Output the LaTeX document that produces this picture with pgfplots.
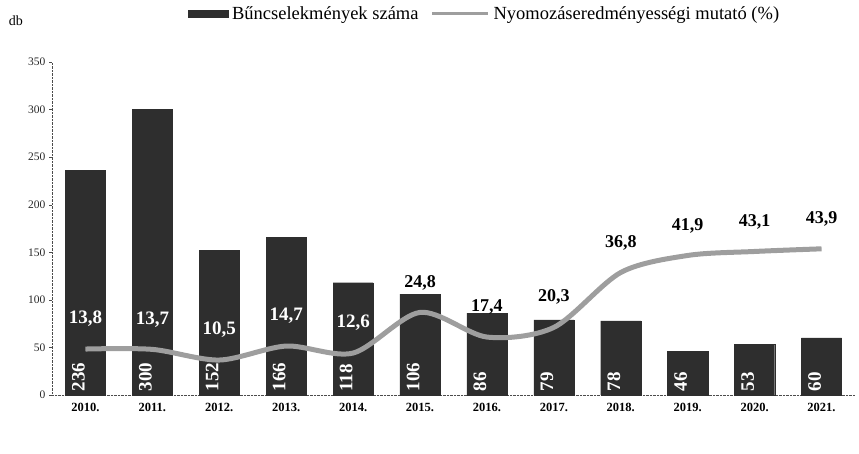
\documentclass[border=0pt]{standalone}
\usepackage{pgfplots}
\pgfplotsset{compat=1.18}
\usepackage{fontspec}
\setmainfont{Liberation Serif}
\definecolor{barc}{gray}{0.18}
\definecolor{linec}{gray}{0.62}
\begin{document}
\begin{tikzpicture}[x=1pt,y=1pt]
\useasboundingbox (0,0) rectangle (859,454);
\begin{axis}[
  at={(52pt,59pt)}, anchor=south west,
  scale only axis, width=803pt, height=333pt,
  xmin=-0.5, xmax=11.5, ymin=0, ymax=350,
  axis x line*=bottom, axis y line*=left,
  axis line style={densely dotted, black!70, -},
  xtick={0,...,11},
  xticklabels={2010.,2011.,2012.,2013.,2014.,2015.,2016.,2017.,2018.,2019.,2020.,2021.},
  x tick label style={font=\fontsize{12.5}{12.5}\selectfont\bfseries, yshift=-2pt},
  ytick={0,50,...,350},
  y tick label style={font=\fontsize{11.5}{11.5}\selectfont, black!85},
  /pgf/number format/assume math mode=true,
  major x tick style={draw=none},
  ytick style={black!70},
  tick align=outside,
  major tick length=3pt,
  clip=false,
  legend style={at={(0.165,1.145)}, anchor=west, draw=none, fill=none,
    font=\fontsize{18.5}{18.5}\selectfont, legend columns=2,
    /tikz/every even column/.style={column sep=10pt}},
  legend cell align=left,
]
\addplot[ybar, bar width=0.6, fill=barc, draw=barc,
  legend image code/.code={\fill[barc] (0pt,-3pt) rectangle (40pt,4pt);}]
  coordinates {(0,236)(1,300)(2,152)(3,166)(4,118)(5,106)(6,86)(7,79)(8,78)(9,46)(10,53)(11,60)};
\addlegendentry{\hspace{2pt}Bűncselekmények száma}
\addlegendimage{legend image code/.code={\draw[linec, line width=3pt] (0pt,0pt) -- (56pt,0pt);}}
\addlegendentry{\hspace{2pt}Nyomozáseredményességi mutató (\%)}
\addplot[draw=none, mark=none, forget plot, nodes near coords, point meta=explicit symbolic,
  every node near coord/.append style={rotate=90, anchor=west, text=white,
    font=\fontsize{19}{19}\selectfont\bfseries, yshift=7pt}]
  table[meta=lab] {
x y lab
0 0 236
1 0 300
2 0 152
3 0 166
4 0 118
5 0 106
6 0 86
7 0 79
8 0 78
9 0 46
10 0 53
11 0 60
};
\node[font=\fontsize{14}{14}\selectfont] at (rel axis cs:-0.045,1.125) {db};
\end{axis}
\begin{axis}[
  at={(52pt,59pt)}, anchor=south west,
  scale only axis, width=803pt, height=333pt,
  xmin=-0.5, xmax=11.5, ymin=0, ymax=100,
  hide axis, clip=false,
]
\addplot[smooth, linec, line width=5pt]
  coordinates {(0,13.8)(1,13.7)(2,10.5)(3,14.7)(4,12.6)(5,24.8)(6,17.4)(7,20.3)(8,36.8)(9,41.9)(10,43.1)(11,43.9)};
\addplot[draw=none, mark=none, nodes near coords, point meta=explicit symbolic,
  every node near coord/.append style={anchor=center, text=white,
    font=\fontsize{19}{19}\selectfont\bfseries, yshift=30pt}]
  table[meta=lab] {
x y lab
0 13.8 13,8
1 13.7 13,7
2 10.5 10,5
3 14.7 14,7
4 12.6 12,6
};
\addplot[draw=none, mark=none, nodes near coords, point meta=explicit symbolic,
  every node near coord/.append style={anchor=center, text=black,
    font=\fontsize{18}{18}\selectfont\bfseries, yshift=30pt}]
  table[meta=lab] {
x y lab
5 24.8 24,8
6 17.4 17,4
7 20.3 20,3
8 36.8 36,8
9 41.9 41,9
10 43.1 43,1
11 43.9 43,9
};
\end{axis}
\end{tikzpicture}
\end{document}
